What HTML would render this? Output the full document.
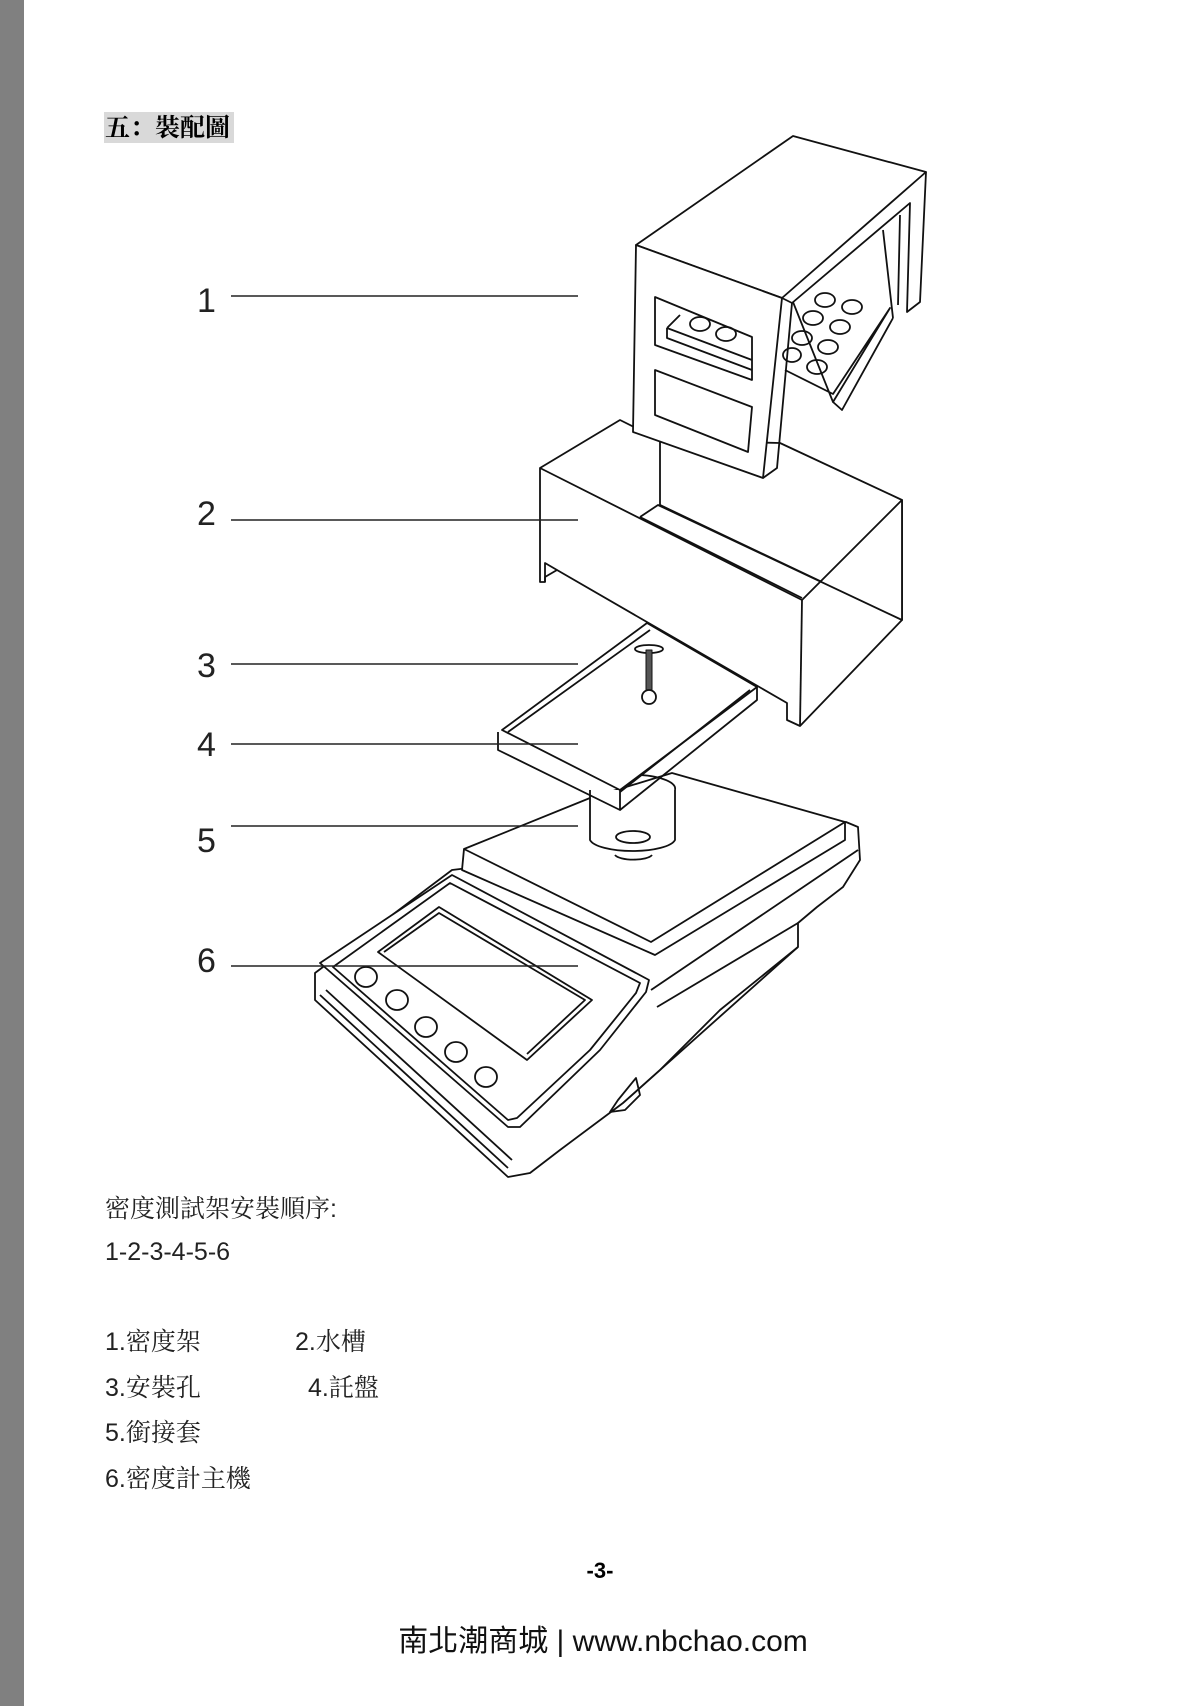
<!DOCTYPE html>
<html><head><meta charset="utf-8"><style>
html,body{margin:0;padding:0;background:#fff;}
svg{display:block;}
</style></head><body>
<svg width="1200" height="1706" viewBox="0 0 1200 1706" xmlns="http://www.w3.org/2000/svg">
<rect x="0" y="0" width="24" height="1706" fill="#808080"/>
<rect x="104" y="112" width="130" height="31" fill="#d9d9d9"/>
<text x="105" y="136" font-family="'Liberation Serif','Noto Serif CJK SC',serif" font-size="25" font-weight="bold">五：裝配圖</text>

<g fill="none" stroke="#111" stroke-width="1.8" stroke-linejoin="round">
<!-- balance body -->
<path d="M315,973 L452,870 L846,822 L858,827 L860,860 L843,887 L817,907 L798,923 L798,947 L623,1103 L560,1150 L530,1173 L508,1177 L315,1000 Z" fill="#fff"/>
<path d="M320,995 L508,1168"/>
<path d="M326,990 L512,1160"/>
<path d="M651,990 L858,850"/>
<path d="M657,1007 L798,923"/>
<path d="M623,1103 L660,1070 L720,1010 L798,947"/>
<path d="M636,1078 L618,1100 L610,1112 L625,1110 L640,1095 Z"/>
<!-- display panel -->
<path d="M320,963 L452,875 L649,980 L646,992 L600,1050 L520,1127 L508,1127 Z" fill="#fff"/>
<path d="M333,967 L450,883 L640,983 L636,993 L590,1050 L517,1118 L508,1120 Z"/>
<!-- screen -->
<path d="M378,952 L439,907 L592,1000 L527,1060 Z"/>
<path d="M384,952 L439,913 L585,1000 L527,1054"/>
<g>
<ellipse cx="366" cy="977" rx="11" ry="10"/><ellipse cx="397" cy="1000" rx="11" ry="10"/><ellipse cx="426" cy="1027" rx="11" ry="10"/><ellipse cx="456" cy="1052" rx="11" ry="10"/><ellipse cx="486" cy="1077" rx="11" ry="10"/>
</g>
<!-- pan -->
<path d="M464,849 L590,798 L672,773 L845,822 L845,840 L655,955 L462,870 Z" fill="#fff"/>
<path d="M464,849 L651,942 L845,822"/>
<!-- cylinder -->
<path d="M590,790 L590,840 A43,13 0 0 0 675,840 L675,790" fill="#fff"/>
<ellipse cx="633" cy="837" rx="17" ry="6"/>
<path d="M615,855 A19,6 0 0 0 652,855"/>
<path d="M675,790 A42,14 0 0 0 640,775"/>
<!-- plate -->
<path d="M502,730 L647,623 L757,687 L620,790 Z" fill="#fff"/>
<path d="M498,732 L498,750 L620,810 L620,790 M620,810 L757,700 L757,687"/>
<path d="M508,732 L650,630 M620,792 L750,690"/>
<!-- screw -->
<ellipse cx="649" cy="649" rx="14" ry="4"/>
<rect x="646" y="650" width="6" height="40" fill="#555" stroke="#111" stroke-width="1"/>
<circle cx="649" cy="697" r="7" fill="#fff"/>
<!-- tank -->
<path d="M540,468 L620,420 L660,440 L660,505 L902,620 L902,500 L780,443 L660,440" fill="none"/>
<path d="M540,468 L802,600 L902,500 L902,620 L800,726 L787,720 L787,703 L557,570 L545,577 L545,582 L540,582 Z" fill="#fff"/>
<path d="M802,600 L800,726"/>
<path d="M545,582 L545,563 L557,570"/>
<path d="M640,517 L658,505 L902,620"/>
<path d="M640,517 L802,598"/>
<!-- frame -->
<path d="M636,245 L793,136 L926,172 L782,298 Z" fill="#fff"/>
<path d="M636,245 L782,298 L763,478 L633,432 Z" fill="#fff"/>
<path d="M782,298 L792,303 L777,468 L763,478"/>
<path d="M926,172 L920,302 L907,312 L910,203 L792,303"/>
<path d="M900,215 L898,305 M883,230 L893,318"/>
<path d="M793,302 L833,402 L890,308 L833,394 L785,370"/>
<path d="M833,402 L842,410 L893,318"/>
<path d="M655,297 L752,337 L752,380 L655,345 Z"/>
<path d="M667,328 L752,360 M667,328 L667,338 L752,370 M667,328 L680,315"/>
<path d="M655,370 L752,407 L748,452 L655,415 Z"/>
<g>
<ellipse cx="700" cy="324" rx="10" ry="7"/><ellipse cx="726" cy="334" rx="10" ry="7"/>
<ellipse cx="825" cy="300" rx="10" ry="7"/><ellipse cx="852" cy="307" rx="10" ry="7"/>
<ellipse cx="813" cy="318" rx="10" ry="7"/><ellipse cx="840" cy="327" rx="10" ry="7"/>
<ellipse cx="802" cy="338" rx="10" ry="7"/><ellipse cx="828" cy="347" rx="10" ry="7"/>
<ellipse cx="817" cy="367" rx="10" ry="7"/><ellipse cx="792" cy="355" rx="9" ry="7"/>
</g>
</g>

<g font-family="'Liberation Sans',sans-serif" font-size="34" fill="#222">
<text x="197" y="312">1</text>
<text x="197" y="525">2</text>
<text x="197" y="677">3</text>
<text x="197" y="756">4</text>
<text x="197" y="852">5</text>
<text x="197" y="972">6</text>
</g>
<g stroke="#222" stroke-width="1.6">
<line x1="231" y1="296" x2="578" y2="296"/>
<line x1="231" y1="520" x2="578" y2="520"/>
<line x1="231" y1="664" x2="578" y2="664"/>
<line x1="231" y1="744" x2="578" y2="744"/>
<line x1="231" y1="826" x2="578" y2="826"/>
<line x1="231" y1="966" x2="578" y2="966"/>
</g>

<g font-family="'Liberation Sans','Noto Serif CJK TC',serif" font-size="25" fill="#222">
<text x="105" y="1217">密度測試架安裝順序:</text>
<text x="105" y="1260">1-2-3-4-5-6</text>
<text x="105" y="1350">1.密度架</text>
<text x="295" y="1350">2.水槽</text>
<text x="105" y="1396">3.安裝孔</text>
<text x="308" y="1396">4.託盤</text>
<text x="105" y="1441">5.銜接套</text>
<text x="105" y="1487">6.密度計主機</text>
</g>
<text x="600" y="1578" text-anchor="middle" font-family="'Liberation Sans',sans-serif" font-size="22" font-weight="bold">-3-</text>
<text x="603" y="1651" text-anchor="middle" font-family="'Liberation Sans','Noto Sans CJK TC',sans-serif" font-size="30" fill="#111">南北潮商城 | www.nbchao.com</text>
</svg>
</body></html>
